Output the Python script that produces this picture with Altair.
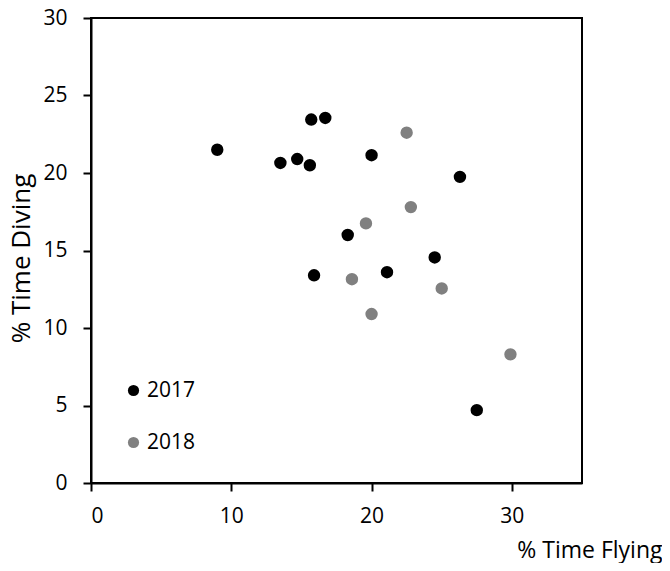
import altair as alt
import pandas as pd

years = ["2017", "2018"]

flying_2017 = [9.0, 13.5, 14.7, 15.6, 15.7, 16.7, 20.0, 26.3, 18.3, 24.5, 15.9, 21.1, 27.5]
diving_2017 = [21.5, 20.65, 20.9, 20.5, 23.45, 23.55, 21.15, 19.75, 16.0, 14.55, 13.4, 13.6, 4.7]

flying_2018 = [22.5, 22.8, 19.6, 18.6, 25.0, 20.0, 29.9]
diving_2018 = [22.6, 17.8, 16.75, 13.15, 12.55, 10.9, 8.3]

x_ticks = [0, 10, 20, 30]
y_ticks = [0, 5, 10, 15, 20, 25, 30]

df = pd.DataFrame({
    "flying": flying_2017 + flying_2018,
    "diving": diving_2017 + diving_2018,
    "year": [years[0]] * len(flying_2017) + [years[1]] * len(flying_2018),
})

FONT = "Open Sans"

chart = alt.Chart(df).mark_circle(size=154, opacity=1).encode(
    x=alt.X(
        "flying:Q",
        scale=alt.Scale(domain=[0, 35], nice=False, zero=False),
        axis=alt.Axis(
            values=x_ticks,
            title="% Time Flying",
            titleX=571,
            titleY=74,
            titleAlign="right",
            titleBaseline="alphabetic",
            titleFontSize=23,
            labelPadding=14,
        ),
    ),
    y=alt.Y(
        "diving:Q",
        scale=alt.Scale(domain=[0, 30], nice=False, zero=False),
        axis=alt.Axis(
            values=y_ticks,
            title="% Time Diving",
            titleX=-62,
            titleY=240,
            titleAngle=270,
            titleAlign="center",
            titleBaseline="alphabetic",
            titleFontSize=26,
            labelPadding=16,
        ),
    ),
    color=alt.Color(
        "year:N",
        scale=alt.Scale(domain=years, range=["#000000", "#808080"]),
        legend=alt.Legend(
            orient="none",
            legendX=32,
            legendY=362,
            title=None,
            symbolType="circle",
            symbolSize=125,
            symbolStrokeWidth=0,
            symbolOpacity=1,
            labelFont=FONT,
            labelFontSize=21,
            labelColor="black",
            labelOffset=3,
            rowPadding=30,
            padding=0,
        ),
    ),
).properties(
    width=491,
    height=465,
    autosize="none",
    padding={"left": 83, "top": 10, "right": 80, "bottom": 80},
).configure_view(
    stroke="black",
    strokeWidth=2,
).configure_axis(
    grid=False,
    domainColor="black",
    domainWidth=2,
    tickColor="black",
    tickWidth=2,
    tickSize=8,
    labelFont=FONT,
    labelFontSize=21,
    labelColor="black",
    titleFont=FONT,
    titleFontWeight="normal",
    titleColor="black",
)

chart.save("out.html", embed_options={"renderer": "svg", "actions": False})
